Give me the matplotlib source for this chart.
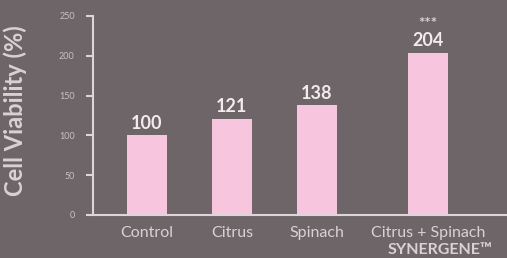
import matplotlib.pyplot as plt
import numpy as np

categorias = ["Control", "Citrus", "Spinach", "Citrus + Spinach"]
viabilidad = [100, 121, 138, 204]
posiciones = [0, 1, 2, 3.31]
etiquetas_valor = ["100", "121", "138", "204"]
ticks_y = [0, 50, 100, 150, 200, 250]

fondo = "#6e6569"
rosa = "#f7c6de"
texto = "#d9d2d5"
blanco = "#f0ecee"

plt.rcParams["font.family"] = ["Lato", "DejaVu Sans"]

fig = plt.figure(figsize=(5.07, 2.58), dpi=100, facecolor=fondo)
ax = fig.add_axes([0.183, 0.167, 0.817, 0.771])
ax.set_facecolor(fondo)

ax.bar(posiciones, viabilidad, width=0.47, color=rosa)

for x, v, t in zip(posiciones, viabilidad, etiquetas_valor):
    ax.text(x, v + 4, t, ha="center", va="bottom", color=blanco,
            fontsize=13, fontweight="bold")
ax.text(posiciones[-1], viabilidad[-1] + 27, "***", ha="center", va="bottom",
        color=texto, fontsize=11, fontweight="bold")

ax.set_xlim(-0.635, 4.235)
ax.set_ylim(0, 250)
ax.set_yticks(ticks_y)
ax.set_yticklabels([str(t) for t in ticks_y], fontsize=6.5, color="#c9c1c5")
ax.set_xticks(posiciones)
ax.set_xticklabels(categorias, fontsize=11.5, color=texto)
ax.tick_params(axis="x", length=0, pad=8)
ax.tick_params(axis="y", length=5, width=1.5, color="#ddd6d9", pad=8)

for lado in ["top", "right"]:
    ax.spines[lado].set_visible(False)
for lado in ["left", "bottom"]:
    ax.spines[lado].set_color("#ddd6d9")
    ax.spines[lado].set_linewidth(1.5)

ax.text(posiciones[-1] + 0.14, -49.5, "SYNERGENE™", ha="center", va="baseline",
        color=texto, fontsize=11.5, fontweight="bold")

fig.text(0.03, 0.57, "Cell Viability (%)", rotation=90, ha="center", va="center",
         color=texto, fontsize=17, fontweight="bold")

fig.savefig("out.png", dpi=100, facecolor=fondo)
